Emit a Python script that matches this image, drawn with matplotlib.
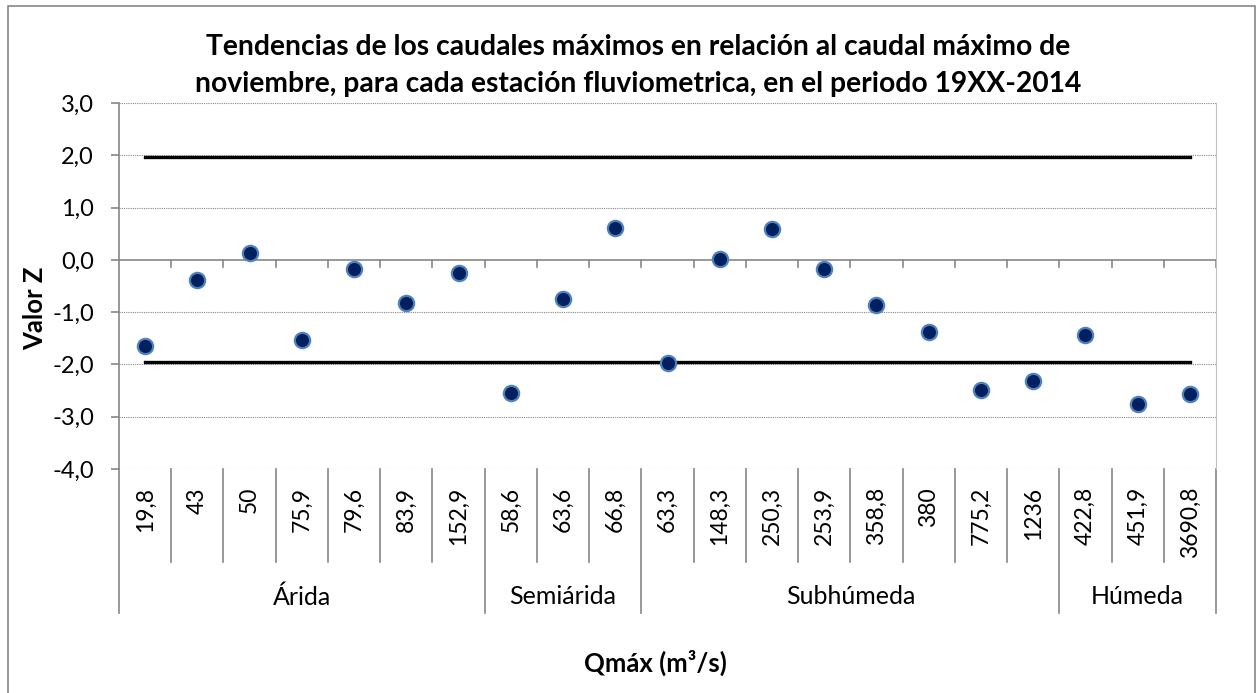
import matplotlib.pyplot as plt
from matplotlib.patches import Rectangle

plt.rcParams['font.family'] = ['Lato', 'DejaVu Sans']

# Estaciones agrupadas por zona climática
regiones = ['Árida', 'Semiárida', 'Subhúmeda', 'Húmeda']
n_estaciones = [7, 3, 8, 3]
qmax = ['19,8', '43', '50', '75,9', '79,6', '83,9', '152,9',
        '58,6', '63,6', '66,8',
        '63,3', '148,3', '250,3', '253,9', '358,8', '380', '775,2', '1236',
        '422,8', '451,9', '3690,8']
valor_z = [-1.65, -0.39, 0.13, -1.54, -0.17, -0.83, -0.26,
           -2.54, -0.74, 0.61,
           -1.98, 0.01, 0.59, -0.17, -0.87, -1.38, -2.49, -2.31,
           -1.44, -2.76, -2.57]
z_critico = 1.96
y_ticks = [3, 2, 1, 0, -1, -2, -3, -4]
y_labels = ['3,0', '2,0', '1,0', '0,0', '-1,0', '-2,0', '-3,0', '-4,0']
titulo = ['Tendencias de los caudales máximos en relación al caudal máximo de',
          'noviembre, para cada estación fluviometrica, en el periodo 19XX-2014']

W, H = 1256, 693
fig = plt.figure(figsize=(W / 100, H / 100), dpi=100)

# borde del gráfico
fig.patches.append(Rectangle((8 / W, -0.05), (1255 - 8) / W, 1.05 - 6 / H,
                             transform=fig.transFigure, fill=False,
                             edgecolor='#868686', linewidth=1.2))

x0, x1, y_top, y_bot = 119, 1216, 103, 469
alto = y_bot - y_top
ax = fig.add_axes([x0 / W, (H - y_bot) / H, (x1 - x0) / W, alto / H])
n = len(valor_z)
ax.set_xlim(0, n)
ax.set_ylim(-4, 3)

gris = '#868686'
for v in y_ticks:
    if v != 0:
        ax.axhline(v, color=gris, linewidth=0.8, linestyle=(0, (1, 1)), zorder=1)

for s in ['top', 'bottom']:
    ax.spines[s].set_visible(False)
ax.spines['right'].set_color('#c0c0c0')
ax.spines['left'].set_color(gris)
ax.spines['left'].set_linewidth(1.2)

# eje horizontal en cero con marcas de categoría
ax.axhline(0, color=gris, linewidth=1.2, zorder=1)
xt = ax.get_xaxis_transform()
for i in range(1, n + 1):
    ax.plot([i, i], [4 / 7, 4 / 7 - 7 / alto], transform=xt, color=gris,
            linewidth=1.2, clip_on=False, zorder=1)

ax.set_xticks([])
ax.set_yticks(y_ticks)
ax.set_yticklabels(y_labels, fontsize=17)
ax.tick_params(axis='y', length=6, width=1.2, color=gris, pad=12)

# líneas de significancia
ax.plot([0.5, n - 0.5], [z_critico, z_critico], color='black', linewidth=2.4, zorder=2)
ax.plot([0.5, n - 0.5], [-z_critico, -z_critico], color='black', linewidth=2.4, zorder=2)

xs = [i + 0.5 for i in range(n)]
ax.plot(xs, valor_z, linestyle='none', marker='o', markersize=11,
        markerfacecolor='#002060', markeredgecolor='#4F81BD',
        markeredgewidth=1.6, zorder=3)

# etiquetas de categoría de dos niveles
sep_corto = -(562 - y_bot) / alto
sep_largo = -(613 - y_bot) / alto
for i, lab in enumerate(qmax):
    ax.text(i + 0.5, -(487 - y_bot) / alto, lab, transform=xt,
            rotation=90, ha='center', va='top', fontsize=16.5)

limites = [0]
for k in n_estaciones:
    limites.append(limites[-1] + k)
for i in range(n + 1):
    y_fin = sep_largo if i in limites else sep_corto
    ax.plot([i, i], [0, y_fin], transform=xt, color=gris, linewidth=1.2,
            clip_on=False)
for r, a, b in zip(regiones, limites[:-1], limites[1:]):
    ax.text((a + b) / 2, -(597 - y_bot) / alto, r, transform=xt,
            ha='center', va='center', fontsize=18)

for linea, y in zip(titulo, [47, 84]):
    fig.text(638 / W, 1 - y / H, linea, ha='center', va='center',
             fontsize=20.3, fontweight='bold')
fig.text(35 / W, 1 - 308 / H, 'Valor Z', rotation=90, ha='center', va='center',
         fontsize=18.5, fontweight='bold')
fig.text(655 / W, 1 - 663 / H, 'Qmáx (m³/s)', ha='center', va='center',
         fontsize=18.5, fontweight='bold')

fig.savefig('out.png', dpi=100)
